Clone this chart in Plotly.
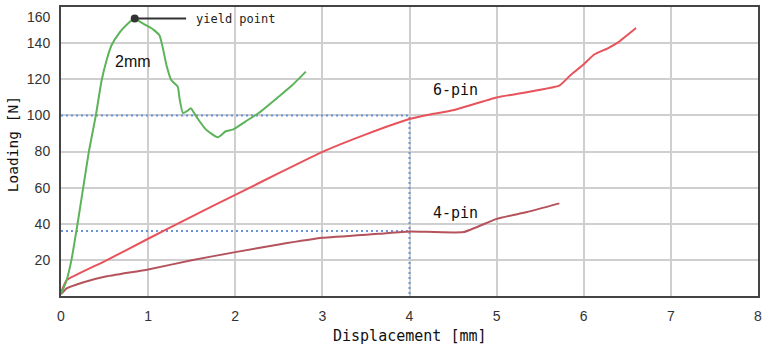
import plotly.graph_objects as go

# ---- data ----
x_2mm = [0, 0.06, 0.12, 0.19, 0.255, 0.32, 0.40, 0.465, 0.52, 0.58, 0.674, 0.76, 0.846,
         0.90, 0.98, 1.06, 1.13, 1.17, 1.21, 1.265, 1.34, 1.36, 1.40, 1.45, 1.49, 1.55,
         1.665, 1.80, 1.89, 1.97, 2.12, 2.27, 2.50, 2.65, 2.81]
y_2mm = [1, 8, 20, 40, 60, 80, 100, 119, 130, 138.8, 146, 150.5, 153.6,
         152, 149.8, 147.5, 144.3, 137, 127.9, 119.6, 115.9, 109.5, 101.3, 102.5, 104, 99.5,
         92.1, 87.9, 91.2, 92.1, 96.7, 101.3, 110.4, 116.5, 124.2]

x_6pin = [0, 0.03, 0.065, 0.5, 1, 1.5, 2, 2.5, 3, 3.5, 4, 4.25, 4.5, 5, 5.72,
          5.85, 5.99, 6.12, 6.27, 6.39, 6.60]
y_6pin = [2, 5.5, 8.8, 19.2, 31.7, 44, 56, 68, 79.8, 89.5, 98, 100.6, 102.8, 109.9, 116.5,
          122.4, 127.9, 133.7, 137, 140.3, 148.4]

x_4pin = [0, 0.065, 0.25, 0.5, 1, 1.5, 2, 2.5, 3, 3.65, 4, 4.62, 5, 5.35, 5.72]
y_4pin = [1, 4.2, 7.5, 10.6, 14.7, 19.8, 24.3, 28.5, 32.2, 34.4, 35.7, 35.4, 42.7, 46.5, 51.3]

yield_x = [0.846]
yield_y = [153.6]

ref_x = 4
ref_y_6pin = 100
ref_y_4pin = 36

x_ticks = [0, 1, 2, 3, 4, 5, 6, 7, 8]
y_ticks = [20, 40, 60, 80, 100, 120, 140, 160]

GREEN = "#5cb35a"
RED = "#e8525a"
DARKRED = "#b4535c"
BLUE = "#6a92dc"

fig = go.Figure()

# reference dotted lines
fig.add_trace(go.Scatter(x=[0, ref_x, ref_x], y=[ref_y_6pin, ref_y_6pin, 0], mode="lines",
                         line=dict(color=BLUE, width=2, dash="2px,3px"), hoverinfo="skip"))
fig.add_trace(go.Scatter(x=[0, ref_x], y=[ref_y_4pin, ref_y_4pin], mode="lines",
                         line=dict(color=BLUE, width=2, dash="2px,3px"), hoverinfo="skip"))

fig.add_trace(go.Scatter(x=x_4pin, y=y_4pin, mode="lines", name="4-pin",
                         line=dict(color=DARKRED, width=2, shape="spline", smoothing=0.4)))
fig.add_trace(go.Scatter(x=x_6pin, y=y_6pin, mode="lines", name="6-pin",
                         line=dict(color=RED, width=2, shape="spline", smoothing=0.4)))
fig.add_trace(go.Scatter(x=x_2mm, y=y_2mm, mode="lines", name="2mm",
                         line=dict(color=GREEN, width=2, shape="spline", smoothing=0.5)))

# yield point marker + leader line
fig.add_trace(go.Scatter(x=[yield_x[0], 1.436], y=[yield_y[0], yield_y[0]], mode="lines",
                         line=dict(color="#333333", width=2), hoverinfo="skip"))
fig.add_trace(go.Scatter(x=yield_x, y=yield_y, mode="markers",
                         marker=dict(color="#333333", size=8)))

mono = "DejaVu Sans Mono, monospace"
narrow = "Liberation Sans Narrow, Arial Narrow, Liberation Sans, sans-serif"

annotations = [
    dict(x=1.53, y=yield_y[0], xref="x", yref="y", text="yield point", showarrow=False,
         xanchor="left", yanchor="middle", font=dict(family=mono, size=12, color="#222")),
    dict(x=0.83, y=130, xref="x", yref="y", text="2mm", showarrow=False,
         font=dict(family=narrow, size=16, color="#111")),
    dict(x=4.53, y=114.3, xref="x", yref="y", text="6-pin", showarrow=False,
         font=dict(family=mono, size=15, color="#111")),
    dict(x=4.53, y=45.8, xref="x", yref="y", text="4-pin", showarrow=False,
         font=dict(family=mono, size=15, color="#111")),
    dict(x=0.5, y=-0.1375, xref="paper", yref="paper", text="Displacement [mm]",
         showarrow=False, yanchor="middle", font=dict(family=mono, size=15, color="#111")),
    dict(x=-0.0686, y=0.526, xref="paper", yref="paper", text="Loading [N]", textangle=-90,
         showarrow=False, xanchor="center", yanchor="middle",
         font=dict(family=mono, size=14.5, color="#111")),
    # top tick label shifted down like in the reference
    dict(x=-0.0114, y=0.966, xref="paper", yref="paper", text=str(y_ticks[-1]),
         showarrow=False, xanchor="right", yanchor="middle",
         font=dict(family=narrow, size=14, color="#333")),
]

fig.update_layout(
    width=767, height=348,
    margin=dict(l=61, r=6, t=5, b=52),
    paper_bgcolor="white", plot_bgcolor="white",
    showlegend=False,
    annotations=annotations,
    xaxis=dict(range=[0, 8], tickvals=x_ticks, ticktext=[str(v) for v in x_ticks],
               showgrid=True, gridcolor="#cfcfcf", gridwidth=1.5,
               showline=True, linecolor="#444", linewidth=2, mirror=True,
               zeroline=False, ticks="", ticklabelstandoff=6,
               tickfont=dict(family=narrow, size=14, color="#333")),
    yaxis=dict(range=[0, 160], tickvals=y_ticks[:-1], ticktext=[str(v) for v in y_ticks[:-1]],
               showgrid=True, gridcolor="#cfcfcf", gridwidth=1.5,
               showline=True, linecolor="#444", linewidth=2, mirror=True,
               zeroline=False, ticks="", ticklabelstandoff=6,
               tickfont=dict(family=narrow, size=14, color="#333")),
)

fig.write_html("out.html", config={"displayModeBar": False},
               post_script="document.body.style.margin='0';")
